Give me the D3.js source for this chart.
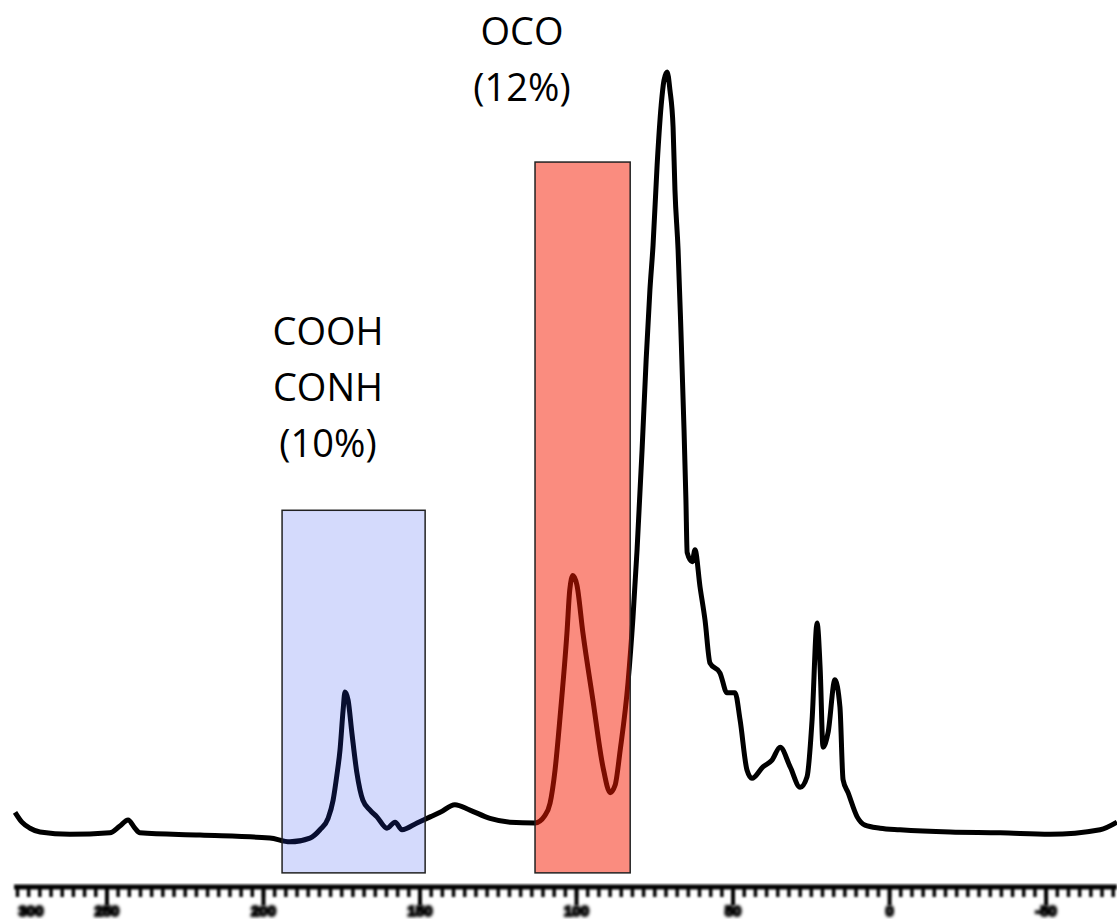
<!DOCTYPE html>
<html>
<head>
<meta charset="utf-8">
<script src="https://d3js.org/d3.v7.min.js"></script>
<style>
body { margin:0; background:#fff; }
svg { display:block; }
</style>
</head>
<body>
<div id="chart"></div>
<script>
// chemical shift (ppm) and intensity
var ppm = [279.2, 277.0, 274.4, 271.2, 261.7, 248.9, 245.7, 243.1, 240.9, 239.3,
	220.1, 197.8, 191.4, 185.0, 181.8, 179.2, 177.6, 176.4, 175.4, 174.4,
	173.8, 172.8, 171.6, 170.0, 168.1, 165.8, 163.6, 160.4, 157.8, 155.6,
	150.8, 146.6, 143.4, 138.7, 133.9, 127.5, 121.1, 113.1, 109.9, 108.3,
	106.7, 105.1, 102.9, 102.0, 101.0, 99.7, 97.8, 94.6, 91.4, 89.1,
	87.5, 85.9, 83.4, 81.8, 80.5, 78.9, 77.6, 76.4, 75.4, 74.1,
	72.8, 71.9, 70.9, 70.0, 69.0, 68.4, 67.4, 66.5, 65.5, 64.9,
	64.5, 62.9, 62.0, 60.4, 58.8, 57.2, 54.0, 51.8, 49.2, 47.6,
	45.4, 43.8, 40.3, 37.4, 34.8, 31.6, 28.4, 26.2, 24.6, 23.0,
	22.0, 21.1, 19.5, 17.3, 15.7, 14.7, 13.1, 10.2, 7.7, 2.9,
	-3.5, -19.5, -35.5, -51.4, -67.4, -72.8];
var intensity = [2.6, 1.3, 0.5, 0.0, -0.3, -0.1, 0.8, 1.6, 0.5, -0.1,
	-0.4, -0.8, -1.3, -0.8, 0.3, 1.8, 4.2, 7.5, 10.8, 16.1,
	18.5, 17.4, 13.1, 7.8, 4.2, 2.9, 2.0, 0.5, 1.3, 0.3,
	1.2, 2.0, 2.6, 3.6, 2.9, 1.8, 1.3, 1.2, 2.2, 3.8,
	8.2, 15.2, 26.3, 32.0, 33.9, 32.6, 26.3, 17.4, 8.6, 5.2,
	6.2, 10.8, 19.7, 28.4, 37.3, 50.5, 62.4, 71.6, 77.5, 88.1,
	96.0, 99.3, 100.4, 98.0, 93.1, 84.8, 76.9, 66.3, 53.1, 43.9,
	36.9, 35.7, 37.3, 32.4, 28.0, 22.3, 21.0, 18.4, 18.4, 14.8,
	8.2, 7.1, 8.6, 9.5, 11.2, 8.6, 5.9, 7.3, 14.8, 27.6,
	21.4, 11.2, 13.1, 20.1, 16.5, 6.9, 5.2, 2.0, 0.9, 0.5,
	0.3, 0.0, -0.1, -0.3, 0.3, 1.3];

// integration regions [from ppm, to ppm, top intensity]
var regionNames = ["COOH/CONH", "OCO"];
var regionFrom = [193.9, 113.1];
var regionTo = [148.2, 82.7];
var regionTop = [42.5, 88.5];
var regionLabels = [["COOH", "CONH", "(10%)"], ["OCO", "(12%)"]];

var tickValues = [250, 200, 150, 100, 50, 0, -50];
var tickLabels = ["250", "200", "150", "100", "50", "0", "-50"];

var width = 1117, height = 919;
var svg = d3.select("#chart").append("svg")
	.attr("width", width).attr("height", height);

var x = d3.scaleLinear().domain([284, -72.8]).range([0, width]);
var y = d3.scaleLinear().domain([0, 100]).range([832, 75]);

var data = ppm.map(function(p, i) { return [p, intensity[i]]; });

var defs = svg.append("defs");
defs.append("filter").attr("id", "soft")
	.append("feGaussianBlur").attr("stdDeviation", 0.9);
defs.append("filter").attr("id", "blob")
	.append("feGaussianBlur").attr("stdDeviation", 1.2);
defs.append("filter").attr("id", "edge")
	.append("feGaussianBlur").attr("stdDeviation", 0.5);

var line = d3.line()
	.x(function(d) { return x(d[0]); })
	.y(function(d) { return y(d[1]); })
	.curve(d3.curveMonotoneX);

svg.append("path")
	.datum(data)
	.attr("d", line)
	.attr("fill", "none")
	.attr("stroke", "#000")
	.attr("stroke-width", 5)
	.attr("stroke-linejoin", "round")
	.attr("filter", "url(#edge)");

// boxes go over the line, fill is see-through
var boxFill = ["rgb(40,70,240)", "rgb(245,25,0)"];
var boxOpacity = [0.2, 0.5];
var bottom = -5.4;
regionNames.forEach(function(n, i) {
	svg.append("rect")
		.attr("x", x(regionFrom[i]))
		.attr("y", y(regionTop[i]))
		.attr("width", x(regionTo[i]) - x(regionFrom[i]))
		.attr("height", y(bottom) - y(regionTop[i]))
		.attr("fill", boxFill[i])
		.attr("fill-opacity", boxOpacity[i])
		.attr("stroke", "#222")
		.attr("stroke-width", 1.5);
});

var labelX = [328, 522];
var labelY = [345, 45];
regionLabels.forEach(function(lines, i) {
	lines.forEach(function(t, j) {
		svg.append("text")
			.attr("x", labelX[i])
			.attr("y", labelY[i] + j * 56)
			.attr("text-anchor", "middle")
			.attr("font-family", "Open Sans")
			.attr("font-size", "38px")
			.attr("fill", "#000")
			.text(t);
	});
});

// axis, drawn blurry like the scanned original
var axisY = 887;
var ax = svg.append("g").attr("filter", "url(#soft)");
ax.append("line")
	.attr("x1", x(279.5)).attr("x2", width)
	.attr("y1", axisY).attr("y2", axisY)
	.attr("stroke", "#000").attr("stroke-width", 5);

var minor = d3.range(250 + 50 / 14 * 8, -73, -50 / 14);
ax.append("g")
	.attr("transform", "translate(0," + axisY + ")")
	.call(d3.axisBottom(x).tickValues(minor).tickSize(10).tickFormat(""))
	.call(function(g) {
		g.select(".domain").remove();
		g.selectAll(".tick line").attr("stroke", "#000").attr("stroke-width", 3.5);
	});

ax.append("g")
	.attr("transform", "translate(0," + axisY + ")")
	.call(d3.axisBottom(x).tickValues(tickValues).tickSize(18)
		.tickFormat(function(d, i) { return tickLabels[i]; }))
	.call(function(g) {
		g.select(".domain").remove();
		g.selectAll(".tick line").attr("stroke", "#000").attr("stroke-width", 4);
		g.selectAll(".tick text")
			.attr("y", 18)
			.attr("dy", "0.71em")
			.attr("font-family", "Liberation Sans")
			.attr("font-weight", "bold")
			.attr("font-size", "15px")
			.attr("stroke", "#000")
			.attr("stroke-width", 2)
			.attr("fill", "#000")
			.attr("filter", "url(#blob)");
	});

// leftmost label has no stem in the original
ax.append("text")
	.attr("x", 31).attr("y", axisY + 18)
	.attr("dy", "0.71em")
	.attr("text-anchor", "middle")
	.attr("font-family", "Liberation Sans")
	.attr("font-weight", "bold")
	.attr("font-size", "15px")
	.attr("stroke", "#000")
	.attr("stroke-width", 2)
	.attr("filter", "url(#blob)")
	.text("300");
</script>
</body>
</html>
